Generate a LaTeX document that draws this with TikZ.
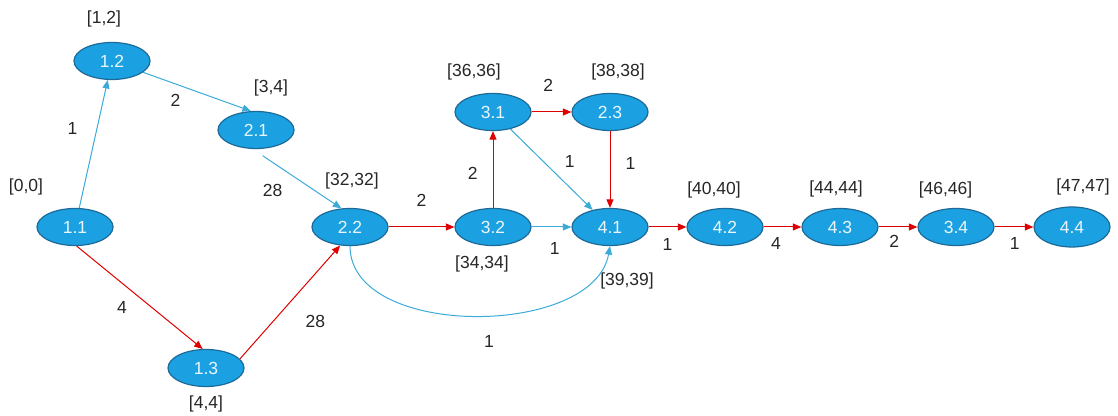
\documentclass[tikz,border=0pt]{standalone}
\usepackage{fontspec}
\setmainfont{Liberation Sans}
\usepackage{xcolor}
\usetikzlibrary{arrows.meta,positioning,shapes.geometric}

\definecolor{taskfill}{HTML}{1BA1E2}
\definecolor{taskline}{HTML}{1D6A98}
\definecolor{tasktext}{HTML}{EAF6FC}
\definecolor{slackline}{HTML}{3BAAD8}
\definecolor{critline}{HTML}{E00000}

\begin{document}
\begin{tikzpicture}[
    x=1pt, y=1pt,
    >={Triangle[length=8.5pt,width=7pt]},
    node distance=100pt,
    on grid,
    every node/.style={font=\fontsize{17.5}{19}\selectfont},
    task/.style={ellipse, draw=taskline, line width=1.2pt, fill=taskfill, text=tasktext, minimum width=76pt, minimum height=37pt, inner sep=0pt},
    tag/.style={inner sep=0pt, text=black!85},
    wlbl/.style={inner sep=0pt, text=black!85},
    crit/.style={->, draw=critline, line width=1pt},
    slack/.style={->, draw=slackline, line width=1pt}
]
\useasboundingbox (0,0) rectangle (1118,415);

% main row
\node[task, label={[tag, label distance=18.25pt, xshift=2pt]above:{[32,32]}}] (n22) at (350,188) {2.2};
\node[task, right=143pt of n22, label={[tag, label distance=9.25pt, xshift=-11pt]below:{[34,34]}}] (n32) {3.2};
\node[task, right=117pt of n32, label={[tag, label distance=26.75pt, xshift=17pt]below:{[39,39]}}] (n41) {4.1};
\node[task, above=115pt of n32, label={[tag, label distance=12.5pt, xshift=-19pt]above:{[36,36]}}] (n31) {3.1};
\node[task, above=115pt of n41, label={[tag, label distance=12.5pt, xshift=8pt]above:{[38,38]}}] (n23) {2.3};
\node[task, right=115pt of n41, label={[tag, label distance=9.5pt, xshift=-11pt]above:{[40,40]}}] (n42) {4.2};
\node[task, right=115pt of n42, label={[tag, label distance=11pt, xshift=-4pt]above:{[44,44]}}] (n43) {4.3};
\node[task, right=116pt of n43, label={[tag, label distance=9.5pt, xshift=-10.5pt]above:{[46,46]}}] (n34) {3.4};
\node[task, right=116pt of n34, minimum height=40pt, label={[tag, label distance=11.5pt, xshift=11pt]above:{[47,47]}}] (n44) {4.4};

% left part
\node[task, left=275pt of n22, label={[tag, label distance=12.25pt, xshift=-49pt]above:{[0,0]}}] (n11) {1.1};
\node[task, above right=166pt and 37pt of n11, label={[tag, label distance=14.5pt, xshift=-8pt]above:{[1,2]}}] (n12) {1.2};
\node[task, above left=97pt and 94pt of n22, label={[tag, label distance=14.25pt, xshift=15pt]above:{[3,4]}}] (n21) {2.1};
\node[task, below left=141pt and 144pt of n22, label={[tag, label distance=8.5pt]below:{[4,4]}}] (n13) {1.3};

% connectors
\draw[slack] (n11) -- node[wlbl, pos=0.62, left=19pt] {1} (n12);
\draw[slack] (n12.-20) -- node[wlbl, pos=0.3, below=9.5pt] {2} (n21.105);
\draw[slack, shorten <=12pt] (n21.-100) -- node[wlbl, pos=0.69, left=31pt] {28} (n22.115);
\draw[crit] (n11.-85) -- node[wlbl, pos=0.6, left=25pt] {4} (n13.100);
\draw[crit] (n13.15) -- node[wlbl, pos=0.33, right=32pt] {28} (n22.-118);
\draw[crit] (n22) -- node[wlbl, midway, above=20pt] {2} (n32);
\draw[crit] (n32) -- node[wlbl, pos=0.45, left=15pt] {2} (n31);
\draw[crit] (n31) -- node[wlbl, pos=0.42, above=20pt] {2} (n23);
\draw[slack] (n31) -- node[wlbl, pos=0.4, right=21pt] {1} (n41);
\draw[crit] (n23) -- node[wlbl, pos=0.42, right=15pt] {1} (n41);
\draw[slack] (n32) -- node[wlbl, pos=0.58, below=14.5pt] {1} (n41);
\draw[slack] (n22.south) to[out=-90, in=-100, looseness=0.92] node[wlbl, pos=0.54, below=20pt] {1} (n41.south);
\draw[crit] (n41) -- node[wlbl, midway, below=11pt] {1} (n42);
\draw[crit] (n42) -- node[wlbl, pos=0.33, below=10pt] {4} (n43);
\draw[crit] (n43) -- node[wlbl, pos=0.4, below=8pt] {2} (n34);
\draw[crit] (n34) -- node[wlbl, pos=0.52, below=10pt] {1} (n44);

\end{tikzpicture}
\end{document}
